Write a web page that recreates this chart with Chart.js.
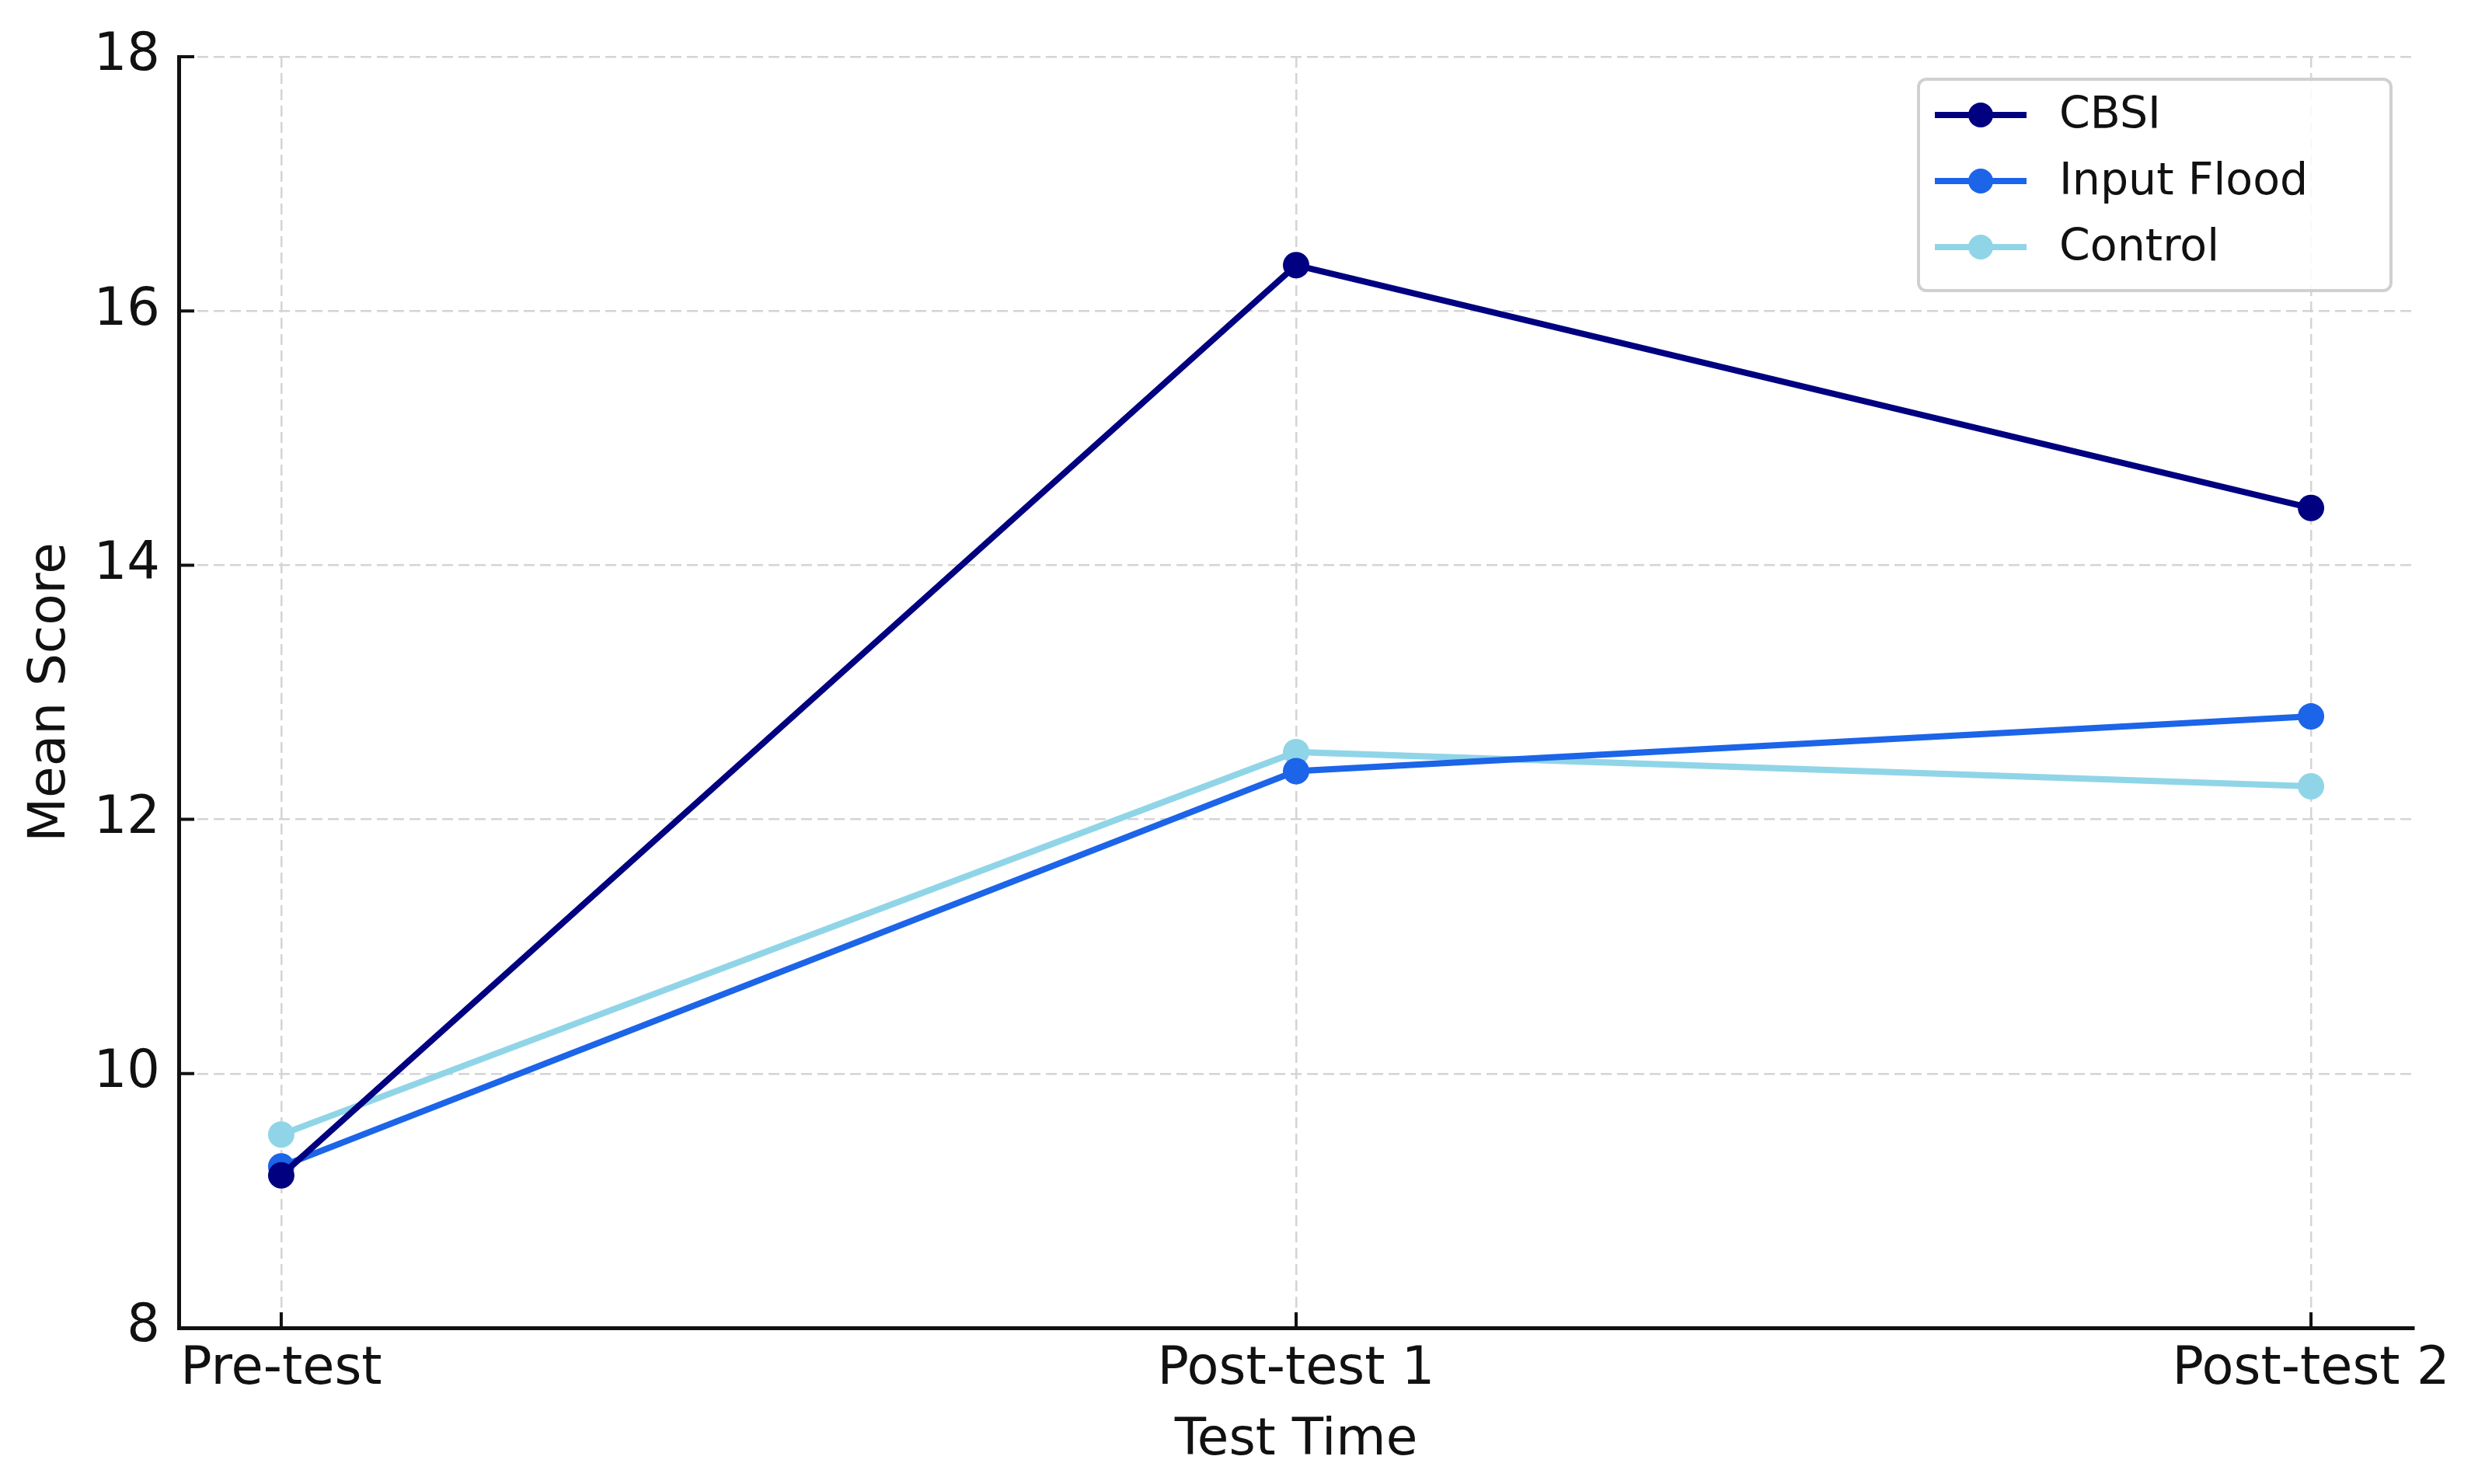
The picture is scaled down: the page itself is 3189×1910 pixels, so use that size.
<!DOCTYPE html>
<html>
<head>
<meta charset="utf-8">
<script src="https://cdn.jsdelivr.net/npm/chart.js@4.4.1/dist/chart.umd.min.js"></script>
<style>
  html, body { margin: 0; padding: 0; background: #fff; }
  canvas { display: block; }
</style>
</head>
<body>
<canvas id="scoreChart" width="3189" height="1910"></canvas>
<script>
/* Mean score by test time */
const testTimes = ['Pre-test', 'Post-test 1', 'Post-test 2'];
const cbsiScores = [9.20, 16.36, 14.45];
const inputFloodScores = [9.27, 12.38, 12.81];
const controlScores = [9.52, 12.53, 12.26];
const yTickValues = [8, 10, 12, 14, 16, 18];

const FONT = "'DejaVu Sans', sans-serif";
const TEXT = '#111111';

const SERIES = [
  { label: 'CBSI', data: cbsiScores, color: '#000080' },
  { label: 'Input Flood', data: inputFloodScores, color: '#1c64e8' },
  { label: 'Control', data: controlScores, color: '#90d5e7' },
];

// inward tick marks, like the matplotlib axes
const innerTicks = {
  id: 'innerTicks',
  afterDraw(chart) {
    const { ctx, chartArea, scales } = chart;
    ctx.save();
    ctx.strokeStyle = '#111';
    ctx.lineWidth = 4;
    ctx.beginPath();
    for (const v of yTickValues) {
      const y = scales.y.getPixelForValue(v);
      ctx.moveTo(chartArea.left, y);
      ctx.lineTo(chartArea.left + 20, y);
    }
    testTimes.forEach((_, i) => {
      const x = scales.x.getPixelForValue(i);
      ctx.moveTo(x, chartArea.bottom);
      ctx.lineTo(x, chartArea.bottom - 20);
    });
    ctx.stroke();
    ctx.restore();
  },
};

// legend box in the upper right corner
const boxLegend = {
  id: 'boxLegend',
  afterDraw(chart) {
    const { ctx } = chart;
    const box = { x: 2469, y: 102, w: 608, h: 272 };
    ctx.save();
    ctx.beginPath();
    ctx.roundRect(box.x, box.y, box.w, box.h, 10);
    ctx.fillStyle = 'rgba(255,255,255,0.85)';
    ctx.fill();
    ctx.lineWidth = 4;
    ctx.strokeStyle = '#d0d0d0';
    ctx.stroke();

    ctx.font = `57px ${FONT}`;
    ctx.textBaseline = 'middle';
    chart.data.datasets.forEach((ds, i) => {
      const y = 148 + i * 85;
      ctx.strokeStyle = ds.borderColor;
      ctx.lineWidth = 8;
      ctx.beginPath();
      ctx.moveTo(2490, y);
      ctx.lineTo(2608, y);
      ctx.stroke();
      ctx.fillStyle = ds.borderColor;
      ctx.beginPath();
      ctx.arc(2549, y, 16, 0, Math.PI * 2);
      ctx.fill();
      ctx.fillStyle = TEXT;
      ctx.fillText(ds.label, 2650, y + 2);
    });
    ctx.restore();
  },
};

const datasets = SERIES.map(s => ({
  label: s.label,
  data: s.data.map((v, i) => ({ x: i, y: v })),
  borderColor: s.color,
  backgroundColor: s.color,
  borderWidth: 8,
  pointRadius: 17,
  pointBorderWidth: 0,
  pointBackgroundColor: s.color,
  tension: 0,
  fill: false,
}));

const gridStyle = { color: '#d4d4d4', lineWidth: 2.5, drawTicks: false };

new Chart(document.getElementById('scoreChart').getContext('2d'), {
  type: 'line',
  data: { datasets },
  plugins: [innerTicks, boxLegend],
  options: {
    responsive: false,
    animation: false,
    devicePixelRatio: 1,
    layout: { padding: { top: 73, right: 83, left: 0, bottom: 0 } },
    plugins: { legend: { display: false }, tooltip: { enabled: false } },
    scales: {
      x: {
        type: 'linear',
        min: -0.101,
        max: 2.101,
        afterBuildTicks: scale => { scale.ticks = testTimes.map((_, i) => ({ value: i })); },
        afterFit: scale => { scale.height = 201; },
        ticks: {
          color: TEXT,
          font: { family: FONT, size: 67 },
          padding: 14,
          maxRotation: 0,
          callback: v => testTimes[v],
        },
        grid: gridStyle,
        border: { display: true, color: '#111', width: 5, dash: [14, 7] },
        title: {
          display: true,
          text: 'Test Time',
          color: TEXT,
          font: { family: FONT, size: 66 },
          padding: { top: 0, bottom: 16 },
        },
      },
      y: {
        min: 8,
        max: 18,
        afterBuildTicks: scale => { scale.ticks = yTickValues.map(v => ({ value: v })); },
        afterFit: scale => { scale.width = 230; },
        ticks: {
          color: TEXT,
          font: { family: FONT, size: 67 },
          padding: 24,
        },
        grid: gridStyle,
        border: { display: true, color: '#111', width: 5, dash: [14, 7] },
        title: {
          display: true,
          text: 'Mean Score',
          color: TEXT,
          font: { family: FONT, size: 66 },
          padding: { top: 26, bottom: 0 },
        },
      },
    },
  },
});
</script>
</body>
</html>
